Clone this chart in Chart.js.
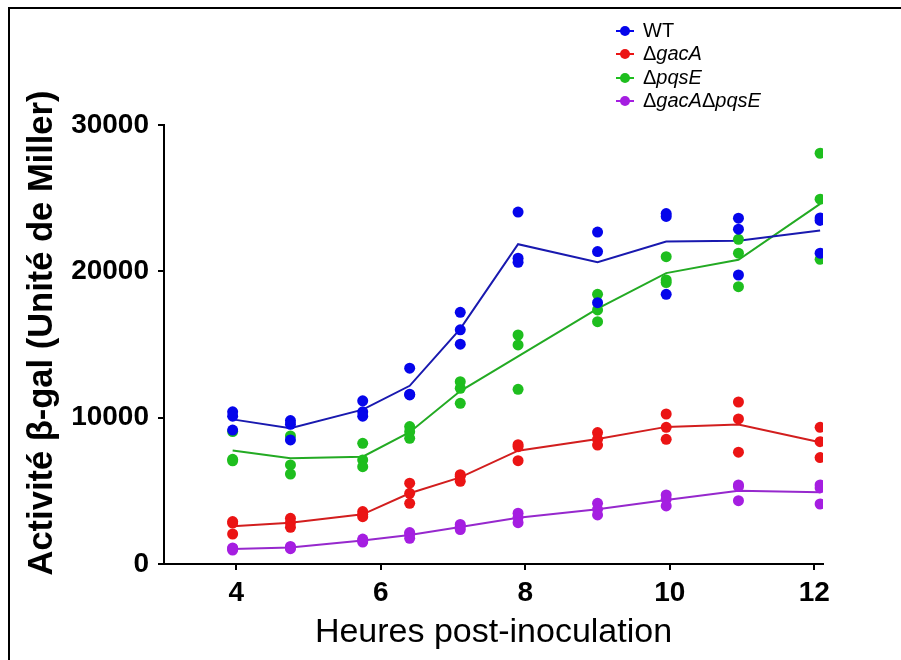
<!DOCTYPE html>
<html lang="fr">

<head>
    <meta charset="UTF-8">
    <title>Activité beta-gal</title>
    <style>
        body {
            margin: 0;
            background: #fff;
            overflow: hidden;
        }

        .wrap {
            position: relative;
            width: 901px;
            height: 660px;
            overflow: hidden;
        }

        /* cadre noir haut + gauche */
        .frame {
            position: absolute;
            left: 8px;
            top: 7px;
            width: 920px;
            height: 700px;
            border: 2px solid #000;
            pointer-events: none;
        }
    </style>
</head>

<body>
    <div class="wrap">
        <canvas id="myChart" width="901" height="660"></canvas>
        <div class="frame"></div>
    </div>

    <script src="https://cdn.jsdelivr.net/npm/chart.js"></script>

    <script>
        // heures de prélèvement
        const hours = [3.95, 4.75, 5.75, 6.4, 7.1, 7.9, 9.0, 9.95, 10.95, 12.08];
        const xTicks = [4, 6, 8, 10, 12];
        const yTicks = [0, 10000, 20000, 30000];

        // triplicats (Unités de Miller) pour chaque heure
        const wt = [
            [10400, 10100, 9150], [9800, 9550, 8480], [11150, 10400, 10100], [13380, 11600, 11550],
            [17200, 16000, 15020], [24050, 20900, 20620], [22680, 21350, 17860], [23950, 23750, 18430],
            [23630, 22880, 19750], [23650, 23480, 21240]
        ];
        const gacA = [
            [2900, 2800, 2050], [3120, 2820, 2510], [3580, 3380, 3230], [5520, 4830, 4150],
            [6100, 6000, 5650], [8150, 8020, 7060], [8980, 8520, 8130], [10250, 9340, 8520],
            [11070, 9910, 7640], [9340, 8360, 7270]
        ];
        const pqsE = [
            [9050, 7150, 7050], [8750, 6770, 6150], [8250, 7110, 6650], [9390, 9040, 8590],
            [12460, 12010, 10980], [15650, 14970, 11940], [18430, 17360, 16560], [21000, 19410, 19230],
            [22190, 21240, 18950], [28070, 24930, 20820]
        ];
        const gacApqsE = [
            [1100, 1050, 950], [1200, 1120, 1050], [1700, 1600, 1500], [2150, 2050, 1760],
            [2700, 2550, 2350], [3470, 3190, 2820], [4150, 3740, 3350], [4720, 4420, 3970],
            [5400, 5300, 4330], [5400, 5200, 4100]
        ];

        const yTitle = 'Activité \u03b2-gal (Unité de Miller)';
        const xTitle = 'Heures post-inoculation';
        const FONT = '"Liberation Sans", Arial, sans-serif';

        // souches : label en morceaux (texte, italique ?)
        const strains = [
            { parts: [['WT', false]], reps: wt, dot: 'rgb(5,5,235)', line: 'rgb(25,25,175)' },
            { parts: [['\u0394', false], ['gacA', true]], reps: gacA, dot: 'rgb(235,20,20)', line: 'rgb(210,30,30)' },
            { parts: [['\u0394', false], ['pqsE', true]], reps: pqsE, dot: 'rgb(30,190,30)', line: 'rgb(35,170,35)' },
            { parts: [['\u0394', false], ['gacA', true], ['\u0394', false], ['pqsE', true]], reps: gacApqsE, dot: 'rgb(165,30,225)', line: 'rgb(150,40,205)' }
        ];

        function mean(arr) {
            return arr.reduce((a, b) => a + b, 0) / arr.length;
        }

        const datasets = [];
        strains.forEach(function (s) {
            const pts = [];
            s.reps.forEach(function (r, i) {
                r.forEach(v => pts.push({ x: hours[i], y: v }));
            });
            datasets.push({
                type: 'scatter',
                data: pts,
                backgroundColor: s.dot,
                borderColor: s.dot,
                pointRadius: 5.5,
                pointBorderWidth: 0,
                order: 0
            });
            datasets.push({
                type: 'line',
                data: s.reps.map((r, i) => ({ x: hours[i], y: mean(r) })),
                borderColor: s.line,
                borderWidth: 2,
                pointRadius: 0,
                tension: 0,
                fill: false,
                order: 1
            });
        });

        // légende dessinée à la main (Δ droit, nom en italique) + titre Y
        const legendPlugin = {
            id: 'strainLegend',
            afterDraw(chart) {
                const ctx = chart.ctx;
                const rows = [31, 54, 78, 101];
                ctx.save();
                ctx.textBaseline = 'middle';
                strains.forEach(function (s, i) {
                    const y = rows[i];
                    ctx.strokeStyle = s.dot;
                    ctx.lineWidth = 2;
                    ctx.beginPath();
                    ctx.moveTo(616, y);
                    ctx.lineTo(634, y);
                    ctx.stroke();
                    ctx.fillStyle = s.dot;
                    ctx.beginPath();
                    ctx.arc(625, y, 5, 0, Math.PI * 2);
                    ctx.fill();
                    let x = 643;
                    ctx.fillStyle = '#000';
                    s.parts.forEach(function (p) {
                        ctx.font = (p[1] ? 'italic ' : '') + '20px ' + FONT;
                        ctx.fillText(p[0], x, y);
                        x += ctx.measureText(p[0]).width;
                    });
                });

                // titre de l'axe Y, un peu au-dessus du centre de la zone
                ctx.translate(42, 333);
                ctx.rotate(-Math.PI / 2);
                ctx.textAlign = 'center';
                ctx.fillStyle = '#000';
                ctx.font = 'bold 34.5px ' + FONT;
                ctx.fillText(yTitle, 0, 0);
                ctx.restore();
            }
        };

        const ctx = document.getElementById('myChart').getContext('2d');
        const myChart = new Chart(ctx, {
            data: { datasets: datasets },
            plugins: [legendPlugin],
            options: {
                responsive: false,
                animation: false,
                layout: { padding: { left: 0, top: 125, right: 78, bottom: 0 } },
                plugins: {
                    legend: { display: false },
                    tooltip: { enabled: false }
                },
                scales: {
                    x: {
                        type: 'linear',
                        min: 3,
                        max: 12.12,
                        afterBuildTicks: scale => { scale.ticks = xTicks.map(v => ({ value: v })); },
                        afterFit: scale => { scale.height = 96; },
                        grid: { drawOnChartArea: false, drawTicks: true, tickLength: 6, color: '#000', lineWidth: 2 },
                        border: { display: true, color: '#000', width: 2 },
                        ticks: {
                            color: '#000',
                            padding: 6,
                            maxRotation: 0,
                            font: { family: FONT, size: 28, weight: 'bold' }
                        },
                        title: {
                            display: true,
                            text: xTitle,
                            color: '#000',
                            padding: { top: 0, bottom: 7 },
                            font: { family: FONT, size: 34, weight: 'normal' }
                        }
                    },
                    y: {
                        type: 'linear',
                        min: 0,
                        max: 30000,
                        afterBuildTicks: scale => { scale.ticks = yTicks.map(v => ({ value: v })); },
                        afterFit: scale => { scale.width = 164; },
                        grid: { drawOnChartArea: false, drawTicks: true, tickLength: 6, color: '#000', lineWidth: 2 },
                        border: { display: true, color: '#000', width: 2 },
                        ticks: {
                            color: '#000',
                            padding: 9,
                            callback: v => String(v),
                            font: { family: FONT, size: 28, weight: 'bold' }
                        }
                    }
                }
            }
        });
    </script>

</body>

</html>
